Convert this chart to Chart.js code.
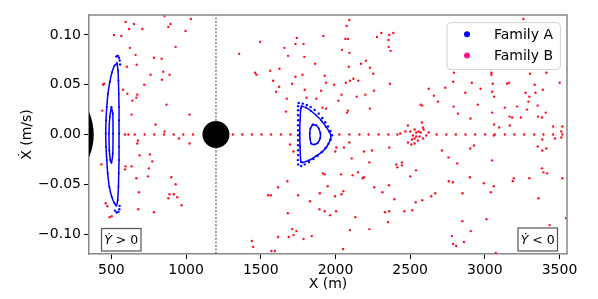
<!DOCTYPE html>
<html>
<head>
<meta charset="utf-8">
<script src="https://cdn.jsdelivr.net/npm/chart.js@4.4.0/dist/chart.umd.min.js"></script>
<style>
  html, body { margin: 0; padding: 0; background: #fff; }
</style>
</head>
<body>
<canvas id="myChart" width="598" height="299"></canvas>
<script>
// axis ticks
const xTicks = [500, 1000, 1500, 2000, 2500, 3000, 3500];
const yTicks = [-0.10, -0.05, 0.00, 0.05, 0.10];

// the two bodies and the divider through the second one
const bodyX = [0, 1200];
const bodyY = [0, 0];
const dividerX = [1200, 1200];
const dividerY = [-0.12, 0.12];

// Family A : closed curves
const leftOuterX = [538, 522, 504, 489, 477, 469, 464, 462, 464, 469, 475, 486, 502, 520, 533, 542, 547, 549, 551, 551, 551, 551, 551, 549, 547, 544, 538];
const leftOuterY = [0.0716, 0.0693, 0.0626, 0.0526, 0.041, 0.0276, 0.0143, 0.001, -0.0124, -0.0257, -0.039, -0.0524, -0.0624, -0.069, -0.0714, -0.0657, -0.0524, -0.039, -0.0257, -0.0124, 0.001, 0.0143, 0.0276, 0.041, 0.0543, 0.0643, 0.0716];
const leftInnerX = [500, 489, 484, 486, 493, 500, 509, 511, 509, 500];
const leftInnerY = [0.0276, 0.0176, 0.001, -0.0157, -0.0257, -0.0284, -0.019, 0.001, 0.021, 0.0276];
const dOuterX = [1774, 1803, 1837, 1870, 1904, 1937, 1959, 1970, 1964, 1941, 1910, 1870, 1826, 1781, 1768, 1763, 1761, 1763, 1768, 1774];
const dOuterY = [0.0283, 0.027, 0.0236, 0.0193, 0.0143, 0.0076, 0.0026, -0.0007, -0.0057, -0.0124, -0.0174, -0.0217, -0.0257, -0.028, -0.0274, -0.0124, 0.001, 0.0143, 0.026, 0.0283];
const dInnerX = [1848, 1870, 1888, 1899, 1897, 1881, 1859, 1837, 1830, 1828, 1832, 1848];
const dInnerY = [0.010, 0.0093, 0.006, 0.001, -0.004, -0.0084, -0.010, -0.009, -0.004, 0.001, 0.006, 0.010];

// Family A : sparse points
const aDotsX = [533, 544, 551, 555, 558, 524, 535, 547, 553, 555,
  1754, 1781, 1808, 1834, 1861, 1888, 1912, 1932, 1950, 1966,
  1977, 1968, 1953, 1932, 1908, 1881, 1852, 1823, 1794, 1770,
  1750, 1748, 1750, 1750, 1750, 1750, 1750, 1750, 1750, 1750,
  1750, 1750, 1750];
const aDotsY = [0.0783, 0.079, 0.077, 0.0743, 0.0703, -0.0764, -0.0784, -0.0777, -0.075, -0.0717,
  0.0316, 0.031, 0.0296, 0.0276, 0.0246, 0.021, 0.0166, 0.0123, 0.008, 0.0036,
  -0.0007, -0.005, -0.0094, -0.0137, -0.0177, -0.0214, -0.0247, -0.0277, -0.03, -0.0317,
  -0.03, -0.0257, -0.0207, -0.0157, -0.0107, -0.0057, -0.0007, 0.0043, 0.0093, 0.0143,
  0.0193, 0.0243, 0.0283];

// Family B
const bX = [
  591, 614, 656, 723, 787, 852, 917, 981, 1046, 1313,
  1376, 1440, 1505, 1569, 1635, 1699, 2026, 2093, 2160, 2222,
  2289, 2354, 2414, 2434, 2677, 2742, 2806, 2871, 2935, 3002,
  3067, 3134, 3198, 3263, 3330, 3392, 3457, 3519,
  595, 856, 896, 881, 618, 651, 707, 996, 517, 566,
  930, 624, 662, 785, 836, 669, 604, 847, 762, 889,
  838, 720, 451, 444, 578, 607, 673, 667, 640, 869,
  1023, 635, 439, 796, 856, 952, 1023, 678, 673, 758,
  689, 774, 433, 595, 635, 591, 751, 667, 745, 901,
  930, 684, 889, 918, 881, 941, 970, 462, 473, 502,
  488, 680, 785, 611, 457,
  1032, 1496, 1355, 1658, 1683, 1563, 1625, 1462, 1471, 1583,
  1623, 1603, 1710, 1674, 1669, 1696, 1678, 1616, 1549, 1567,
  1681, 1710, 1616, 1687, 1440, 1449, 1571, 1594,
  2093, 2075, 1741, 1732, 1786, 1919, 2066, 2084, 2307, 2278,
  2360, 2387, 2356, 2369, 2354, 2044, 2093, 1792, 2204, 2171,
  1864, 2089, 2231, 2253, 1732, 1779, 1928, 2120, 2097, 2153,
  2069, 1937, 2365, 1991, 1794, 1904, 2258, 2200, 2040, 2142,
  1872, 1806, 2020, 2231, 2084, 2077, 1913, 1937, 2360, 2093,
  2006, 2057, 1999, 2191, 2245, 1719, 2227, 2109, 1915, 1928,
  2037, 2151, 2191, 2182, 2115, 2358, 2260, 2314, 1948, 1895,
  1750, 1997, 2040, 2053, 1830, 1893, 1928, 2004, 1964, 2331,
  2360, 2352, 2133, 1739, 1719, 1786, 1841, 2097, 2227, 2051,
  2793, 2788, 2913, 2971, 2624, 2735, 2659, 2869, 2686, 2953,
  2570, 2581, 2791, 2820, 2904, 2485, 2579, 2586, 2590, 2468,
  2501, 2530, 2541, 2557, 2570, 2624, 2519, 2541, 2563, 2586,
  2530, 2512, 2552, 2485, 2530, 2508, 2608, 2927, 2902, 2713,
  2757, 2815, 2407, 2414, 2445, 2445, 2501, 2539, 2900, 2759,
  2786, 2851, 2668, 2641, 2581, 2537, 2394, 2461, 2514, 2849,
  2906, 2779, 2788, 2808, 2860,
  3258, 3044, 3044, 3303, 3412, 3501, 3053, 3149, 3162, 3334,
  3388, 3049, 3272, 3339, 3062, 3298, 3292, 3216, 3134, 3354,
  3283, 3049, 3408, 3165, 3183, 3241, 3356, 3383, 3062, 3096,
  3167, 3457, 3519, 3512, 3470, 3512, 3060, 3385, 3354, 3412,
  3385, 3049, 3383, 3392, 3417, 2993, 3060, 3194, 3187, 3298,
  3519, 3040, 3359, 3011, 3434, 3543, 3073
];
const bY = [
  0, 0, 0, 0, 0, 0, 0, 0, 0, 0,
  0, 0, 0, 0, 0, 0, 0, 0, 0, 0,
  0, 0, 0, 0.001, 0, 0, 0, 0, 0, 0,
  0, 0, 0, 0, 0, 0, 0, 0,
  0.113, 0.119, 0.111, 0.108, 0.106, 0.111, 0.106, 0.104, 0.100, 0.099,
  0.088, 0.087, 0.080, 0.077, 0.076, 0.070, 0.068, 0.063, 0.060, 0.060,
  0.055, 0.050, 0.051, 0.050, 0.045, 0.041, 0.040, 0.037, 0.034, 0.030,
  0.020, 0.020, 0.024, 0.010, 0.003, -0.004, -0.009, -0.006, -0.009, -0.020,
  -0.021, -0.027, -0.030, -0.032, -0.032, -0.035, -0.034, -0.044, -0.042, -0.043,
  -0.050, -0.058, -0.060, -0.060, -0.064, -0.063, -0.071, -0.069, -0.072, -0.082,
  -0.083, -0.075, -0.078, -0.095, -0.096,
  0.116, 0.093, 0.081, 0.087, 0.079, 0.064, 0.066, 0.062, 0.060, 0.054,
  0.048, 0.043, 0.051, 0.036, 0.023, -0.010, -0.047, -0.053, -0.061, -0.061,
  -0.079, -0.095, -0.103, -0.103, -0.107, -0.113, -0.117, -0.117,
  0.115, 0.109, 0.097, 0.091, 0.091, 0.099, 0.096, 0.096, 0.102, 0.098,
  0.100, 0.102, 0.088, 0.084, 0.095, 0.085, 0.082, 0.078, 0.074, 0.071,
  0.071, 0.068, 0.067, 0.061, 0.058, 0.060, 0.059, 0.056, 0.054, 0.054,
  0.052, 0.052, 0.051, 0.050, 0.045, 0.044, 0.044, 0.040, 0.040, 0.038,
  0.036, 0.037, 0.034, 0.026, 0.024, 0.022, 0.027, 0.026, -0.013, -0.008,
  -0.013, -0.013, -0.017, -0.017, -0.016, -0.017, -0.028, -0.024, -0.039, -0.040,
  -0.040, -0.038, -0.043, -0.044, -0.041, -0.051, -0.053, -0.058, -0.052, -0.059,
  -0.061, -0.062, -0.060, -0.057, -0.067, -0.075, -0.077, -0.077, -0.081, -0.078,
  -0.077, -0.088, -0.083, -0.097, -0.101, -0.105, -0.102, -0.096, -0.095, -0.115,
  0.062, 0.053, 0.052, 0.046, 0.046, 0.047, 0.039, 0.042, 0.033, 0.030,
  0.030, 0.029, 0.028, 0.021, 0.016, 0.009, 0.012, 0.007, 0.005, 0.003,
  0.003, 0.005, 0.002, 0.003, 0.002, 0.002, -0.001, -0.002, -0.002, -0.004,
  -0.004, -0.005, -0.006, -0.008, -0.009, -0.010, -0.001, -0.011, -0.014, -0.016,
  -0.023, -0.029, -0.030, -0.033, -0.028, -0.031, -0.042, -0.036, -0.043, -0.047,
  -0.048, -0.059, -0.059, -0.062, -0.066, -0.068, -0.065, -0.077, -0.076, -0.087,
  -0.097, -0.102, -0.110, -0.112, -0.108,
  0.116, 0.062, 0.060, 0.061, 0.062, 0.052, 0.051, 0.051, 0.052, 0.050,
  0.045, 0.043, 0.042, 0.042, 0.038, 0.038, 0.033, 0.028, 0.027, 0.029,
  0.025, 0.022, 0.022, 0.018, 0.017, 0.017, 0.018, 0.017, 0.010, 0.007,
  0.009, 0.008, 0.008, 0.003, -0.004, -0.003, -0.001, -0.005, -0.012, -0.014,
  -0.016, -0.026, -0.034, -0.038, -0.039, -0.049, -0.052, -0.044, -0.047, -0.044,
  -0.044, -0.058, -0.064, -0.085, -0.091, -0.084, -0.119
];

const BLUE = '#0000ff';
const RED = '#ff1020';
const PINK = '#ff1493';
const FONT = "'DejaVu Sans', sans-serif";

function pts(xs, ys) {
  return xs.map(function (x, i) { return { x: x, y: ys[i] }; });
}

function fmt(v) {
  return v.toFixed(2).replace('-', '\u2212');
}

function loop(xs, ys) {
  return {
    data: pts(xs, ys),
    showLine: true,
    borderColor: BLUE,
    borderWidth: 1.5,
    tension: 0.2,
    pointRadius: 1,
    pointBackgroundColor: BLUE,
    pointBorderWidth: 0,
    order: 1
  };
}

function signBox(ctx, x, y, w, h, sign) {
  ctx.fillStyle = '#fff';
  ctx.fillRect(x, y, w, h);
  ctx.strokeStyle = '#555';
  ctx.lineWidth = 1.2;
  ctx.strokeRect(x, y, w, h);
  ctx.fillStyle = '#000';
  ctx.textBaseline = 'middle';
  ctx.textAlign = 'left';
  const it = "italic 12.5px " + FONT;
  const nm = "12.5px " + FONT;
  const rest = ' ' + sign + ' 0';
  ctx.font = it;
  const w1 = ctx.measureText('\u1E8E').width;
  ctx.font = nm;
  const w2 = ctx.measureText(rest).width;
  const tx = x + (w - w1 - w2) / 2;
  ctx.font = it;
  ctx.fillText('\u1E8E', tx, y + h / 2 + 1);
  ctx.font = nm;
  ctx.fillText(rest, tx + w1, y + h / 2 + 1);
}

const overlay = {
  id: 'overlay',
  afterDraw(chart) {
    const ctx = chart.ctx;
    const a = chart.chartArea;
    ctx.save();
    // top and right spines
    ctx.strokeStyle = '#888';
    ctx.lineWidth = 1.5;
    ctx.beginPath();
    ctx.moveTo(a.left, a.top);
    ctx.lineTo(a.right, a.top);
    ctx.lineTo(a.right, a.bottom);
    ctx.stroke();

    signBox(ctx, a.left + 12.5, a.bottom - 25.5, 39.5, 22.5, '>');
    signBox(ctx, a.right - 49, a.bottom - 26, 39.5, 23, '<');

    // legend
    const lx = a.right - 120, ly = a.top + 7.6, lw = 113.4, lh = 47;
    ctx.beginPath();
    ctx.roundRect(lx, ly, lw, lh, 4);
    ctx.fillStyle = 'rgba(255,255,255,0.8)';
    ctx.fill();
    ctx.strokeStyle = '#d0d0d0';
    ctx.lineWidth = 1;
    ctx.stroke();
    const items = [['Family A', BLUE], ['Family B', PINK]];
    items.forEach(function (it, i) {
      const cy = ly + 11.7 + i * 21.3;
      ctx.beginPath();
      ctx.arc(lx + 20, cy, 3, 0, Math.PI * 2);
      ctx.fillStyle = it[1];
      ctx.fill();
      ctx.fillStyle = '#000';
      ctx.font = '14px ' + FONT;
      ctx.textAlign = 'left';
      ctx.textBaseline = 'middle';
      ctx.fillText(it[0], lx + 47, cy + 1);
    });
    ctx.restore();
  }
};

Chart.defaults.font.family = FONT;
Chart.defaults.font.size = 14;
Chart.defaults.color = '#000';

const ctx = document.getElementById('myChart').getContext('2d');
const myChart = new Chart(ctx, {
  type: 'scatter',
  data: {
    datasets: [
      {
        label: 'bodies',
        data: pts(bodyX, bodyY),
        pointRadius: [57, 13.5],
        pointBackgroundColor: '#000',
        pointBorderWidth: 0,
        clip: 0,
        order: 0
      },
      loop(leftOuterX, leftOuterY),
      loop(leftInnerX, leftInnerY),
      loop(dOuterX, dOuterY),
      loop(dInnerX, dInnerY),
      {
        label: 'Family A',
        data: pts(aDotsX, aDotsY),
        pointRadius: 1.2,
        pointBackgroundColor: BLUE,
        pointBorderWidth: 0,
        order: 2
      },
      {
        label: 'Family B',
        data: pts(bX, bY),
        pointRadius: 1.2,
        pointBackgroundColor: RED,
        pointBorderWidth: 0,
        order: 3
      },
      {
        label: 'divider',
        data: pts(dividerX, dividerY),
        showLine: true,
        borderColor: '#444',
        borderWidth: 1,
        borderDash: [2, 1.5],
        pointRadius: 0,
        clip: 0,
        order: 4
      }
    ]
  },
  options: {
    responsive: false,
    animation: false,
    devicePixelRatio: 1,
    events: [],
    layout: { autoPadding: false, padding: { top: 15, right: 31, bottom: 0, left: 0 } },
    plugins: {
      legend: { display: false },
      tooltip: { enabled: false }
    },
    scales: {
      x: {
        type: 'linear',
        min: 350,
        max: 3550,
        afterFit: function (s) { s.height = 45; },
        afterBuildTicks: function (s) { s.ticks = xTicks.map(function (v) { return { value: v }; }); },
        ticks: { padding: 3, maxRotation: 0, font: { size: 14 }, color: '#000', callback: function (v) { return String(v); } },
        grid: { drawOnChartArea: false, tickLength: 5, tickColor: '#000', tickWidth: 1 },
        border: { color: '#888', width: 1.5 },
        title: { display: true, text: 'X (m)', padding: { top: 0, bottom: 6.6 }, font: { size: 14 }, color: '#000' }
      },
      y: {
        type: 'linear',
        min: -0.12,
        max: 0.12,
        afterFit: function (s) { s.width = 89; },
        afterBuildTicks: function (s) { s.ticks = yTicks.map(function (v) { return { value: v }; }); },
        ticks: { padding: 3, font: { size: 14 }, color: '#000', callback: function (v) { return fmt(v); } },
        grid: { drawOnChartArea: false, tickLength: 5, tickColor: '#000', tickWidth: 1 },
        border: { color: '#888', width: 1.5 },
        title: { display: true, text: '\u1E8A (m/s)', padding: { top: 18.6, bottom: 0 }, font: { size: 14 }, color: '#000' }
      }
    }
  },
  plugins: [overlay]
});
</script>
</body>
</html>
